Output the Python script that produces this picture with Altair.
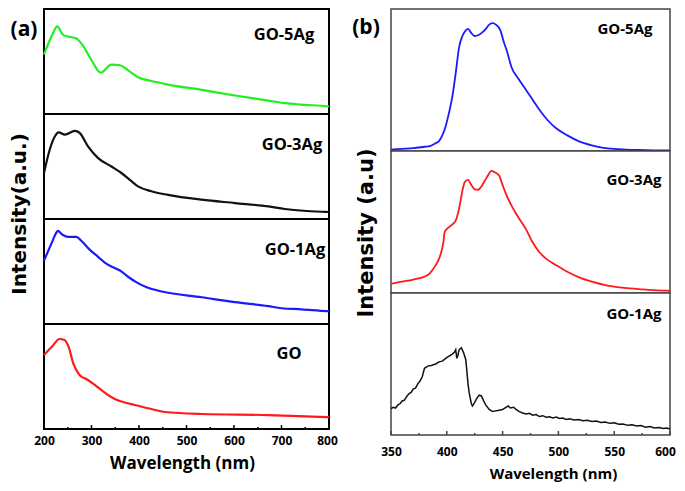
import altair as alt
import pandas as pd

# ---------------- panel (a): UV-vis absorbance ----------------
A_GO5_X = [200, 216, 228, 240, 251, 268, 279, 300, 319, 342, 360, 377, 398, 426, 461, 532, 602, 672, 707, 742, 795, 800]
A_GO5_Y = [56.7, 74, 83.4, 75.3, 73.7, 72, 67, 51.3, 39.4, 47, 46.4, 41.6, 35, 31.4, 28, 23, 17.6, 12.8, 10.3, 9, 7.4, 7.2]

A_GO3_X = [200, 212, 223, 231, 244, 265, 275, 293, 314, 342, 363, 384, 398, 426, 461, 532, 602, 672, 707, 795, 800]
A_GO3_Y = [43.8, 66, 78.8, 82.5, 80.3, 84, 82, 69, 58, 50, 43.8, 36, 31, 26.4, 23, 18.4, 15.2, 12, 9.5, 6.7, 6.6]

A_GO1_X = [200, 216, 226, 229, 239, 251, 268, 279, 296, 314, 328, 342, 360, 377, 395, 416, 448, 532, 602, 672, 700, 742, 795, 800]
A_GO1_Y = [60.4, 77, 87, 88.7, 85, 83, 83, 79, 70.8, 64, 58.5, 54.7, 51, 45, 39.6, 35, 31, 25.5, 20.8, 17, 15, 14, 12.3, 12.2]

A_GO_X = [200, 216, 233, 243, 252, 262, 271, 277, 289, 304, 321, 349, 374, 391, 426, 454, 532, 672, 795, 800]
A_GO_Y = [70.5, 78, 85.7, 84.8, 78, 62, 54, 50.5, 47.6, 43, 37, 28.6, 24.8, 22.9, 19, 16.2, 14.3, 13.3, 11.4, 11.3]

A_MAJOR = [200, 300, 400, 500, 600, 700, 800]
A_MINOR = [250, 350, 450, 550, 650, 750]

# ---------------- panel (b): photoluminescence ----------------
B_GO5_X = [350, 360, 370, 380, 385, 390, 393, 396, 399, 402, 405, 408, 411, 414, 417, 419, 422, 425, 428, 431, 435, 438, 441, 444, 448, 451, 454, 458, 464, 471, 477, 483, 490, 498, 508, 518, 530, 542, 557, 572, 585, 600]
B_GO5_Y = [1, 1.5, 2, 3, 3.5, 5.5, 7, 11, 17.5, 27, 38.5, 55, 73, 81, 85, 86, 83, 81, 81.5, 83, 86, 89, 90, 89, 85, 77, 70, 59, 51, 43, 36, 29, 22, 16, 11, 7, 4, 2, 1.2, 0.7, 0.5, 0.5]

B_GO3_X = [350, 360, 370, 380, 385, 390, 393, 395, 397, 398, 400, 403, 406, 408, 410, 412, 414, 416, 419, 422, 425, 428, 431, 434, 437, 440, 443, 447, 450, 454, 458, 462, 466, 471, 476, 483, 490, 498, 508, 518, 530, 542, 557, 572, 585, 600]
B_GO3_Y = [6.5, 8, 9.5, 11.5, 14, 19.6, 24, 28.7, 36, 42.7, 45, 47, 49, 51, 56, 63.6, 72, 78, 79.7, 76, 73, 72.7, 75, 79, 83, 86, 85, 82.5, 76, 68, 61.5, 56, 51, 44.8, 37, 28.7, 23.5, 19.6, 15, 11.2, 8, 5.6, 3.8, 2.8, 2, 1.6]

B_GO1_X = [350, 352, 354, 356, 358, 360, 362, 364, 366, 368, 370, 372, 374, 376, 378, 380, 383, 386, 390, 393, 396, 399, 402, 405, 407, 408, 409, 410, 411, 413, 415, 417, 418, 419, 420, 422, 423, 425, 427, 429, 431, 433, 435, 438, 441, 444, 447, 450, 453, 455, 457, 460, 462, 465, 468, 471, 474, 477, 480, 483, 486, 489, 492, 495, 498, 501, 504, 507, 510, 514, 518, 522, 526, 530, 534, 538, 542, 546, 550, 554, 558, 562, 566, 570, 574, 578, 582, 586, 590, 594, 597, 600]
B_GO1_Y = [18.5, 19.5, 19, 21, 22, 24, 24.5, 27, 29, 30, 32.5, 33, 36, 38, 41, 47, 48.5, 49, 50, 51.5, 52, 54, 55.5, 57, 58.5, 60, 54, 56, 60, 61.5, 58, 53, 45, 36, 30, 22, 20.5, 23, 26, 28, 27.5, 24, 21, 18, 16.5, 17, 17.5, 18, 19.5, 20.5, 19, 19.5, 18, 16.5, 15.5, 14.8, 15.3, 14, 14.4, 13, 13.6, 12.5, 12.9, 12, 12.6, 11.6, 11.9, 10.9, 11.4, 10.6, 10.9, 10, 10.4, 9.5, 9.8, 8.8, 9.1, 8.2, 8.6, 7.6, 7.8, 6.8, 7.2, 6.3, 6.6, 5.5, 5.9, 5.0, 5.3, 4.6, 4.9, 4.2]

B_MAJOR = [350, 400, 450, 500, 550, 600]
B_MINOR = [375, 425, 475, 525, 575]

FONT = "Open Sans"
TITLE_FONT = "DejaVu Sans"


def subpanel(xs, ys, color, lw, label, lx, ly, lsize, W, H, xdom,
             frame_color, frame_w, axis=None, major=None, minor=None, extras=(), interp="monotone"):
    df = pd.DataFrame({"x": xs, "y": ys})
    xscale = alt.Scale(domain=xdom, nice=False, zero=False)
    line = alt.Chart(df).mark_line(color=color, strokeWidth=lw, interpolate=interp).encode(
        x=alt.X("x:Q", scale=xscale, axis=axis if axis is not None else None),
        y=alt.Y("y:Q", scale=alt.Scale(domain=[0, 100], nice=False), axis=None),
    )
    txt = alt.Chart(pd.DataFrame({"t": [label]})).mark_text(
        font=FONT, fontWeight="bold", fontSize=lsize, color="black",
        align="center", baseline="middle").encode(
        text="t:N", x=alt.value(lx), y=alt.value(ly))
    layers = [line, txt]
    if major is not None:
        layers.append(alt.Chart(pd.DataFrame({"x": major})).mark_rule(
            color=frame_color, strokeWidth=1.5).encode(
            x=alt.X("x:Q", scale=xscale), y=alt.value(H), y2=alt.value(H - 4)))
        layers.append(alt.Chart(pd.DataFrame({"x": minor})).mark_rule(
            color=frame_color, strokeWidth=1.5).encode(
            x=alt.X("x:Q", scale=xscale), y=alt.value(H), y2=alt.value(H - 2)))
    layers.extend(extras)
    return alt.layer(*layers).properties(
        width=W, height=H,
        view=alt.ViewBackground(stroke=frame_color, strokeWidth=frame_w, fill="white"))


def free_text(text, x, y, size, font, angle=0):
    return alt.Chart(pd.DataFrame({"t": [text]})).mark_text(
        font=font, fontWeight="bold", fontSize=size, color="black",
        align="center", baseline="middle", angle=angle).encode(
        text="t:N", x=alt.value(x), y=alt.value(y))


def bottom_axis(values, label_pad, title_size, title_pad, title_x, last_value, last_shift):
    return alt.Axis(values=values, format="d", ticks=False, domain=False, grid=False,
                    labelFont=FONT, labelFontWeight="bold", labelFontSize=12,
                    labelColor="black", labelPadding=label_pad, labelOverlap=False,
                    labelFlush=False,
                    labelOffset={"condition": {"test": f"datum.value == {last_value}",
                                               "value": last_shift}, "value": 0},
                    title="Wavelength (nm)", titleFont=FONT, titleFontWeight="bold",
                    titleFontSize=title_size, titleColor="black",
                    titlePadding=title_pad, titleX=title_x)


AW, AH = 285, 105
ADOM = [200, 800]
a1 = subpanel(A_GO5_X, A_GO5_Y, "#22ee22", 2.2, "GO-5Ag", 240, 26, 16.5, AW, AH, ADOM, "black", 2,
              extras=[free_text("(a)", -20, 21, 21, FONT)])
a2 = subpanel(A_GO3_X, A_GO3_Y, "#111111", 2.2, "GO-3Ag", 248, 31, 16.5, AW, AH, ADOM, "black", 2,
              extras=[free_text("Intensity(a.u.)", -24, 100, 20, TITLE_FONT, angle=270)])
a3 = subpanel(A_GO1_X, A_GO1_Y, "#1a1aff", 2.2, "GO-1Ag", 251, 31, 16.5, AW, AH, ADOM, "black", 2)
a4 = subpanel(A_GO_X, A_GO_Y, "#ff1a1a", 2.2, "GO", 245, 30, 16.5, AW, AH, ADOM, "black", 2,
              axis=bottom_axis(A_MAJOR, 6, 17, 9, 138, 800, -2), major=A_MAJOR, minor=A_MINOR)
col_a = alt.vconcat(a1, a2, a3, a4, spacing=0, bounds="flush")

BW, BH = 279, 142
BDOM = [350, 600]
b1 = subpanel(B_GO5_X, B_GO5_Y, "#1a1aff", 1.8, "GO-5Ag", 234, 20, 15, BW, BH, BDOM, "#444444", 1.5,
              extras=[free_text("(b)", -25, 19, 21, FONT)])
b2 = subpanel(B_GO3_X, B_GO3_Y, "#ff1a1a", 1.8, "GO-3Ag", 243, 29, 15, BW, BH, BDOM, "#444444", 1.5,
              extras=[free_text("Intensity (a.u)", -24, 82, 21, TITLE_FONT, angle=270)])
b3 = subpanel(B_GO1_X, B_GO1_Y, "#111111", 1.5, "GO-1Ag", 243, 21, 15, BW, BH, BDOM, "#444444", 1.5,
              axis=bottom_axis(B_MAJOR, 11, 15, 9, 162, 600, -5), major=B_MAJOR, minor=B_MINOR,
              interp="linear")
col_b = alt.vconcat(b1, b2, b3, spacing=0, bounds="flush")

chart = alt.hconcat(col_a, col_b, spacing=12, padding=0).configure_view(
    stroke="black")

chart.save("out.html", embed_options={"renderer": "svg", "actions": False})
